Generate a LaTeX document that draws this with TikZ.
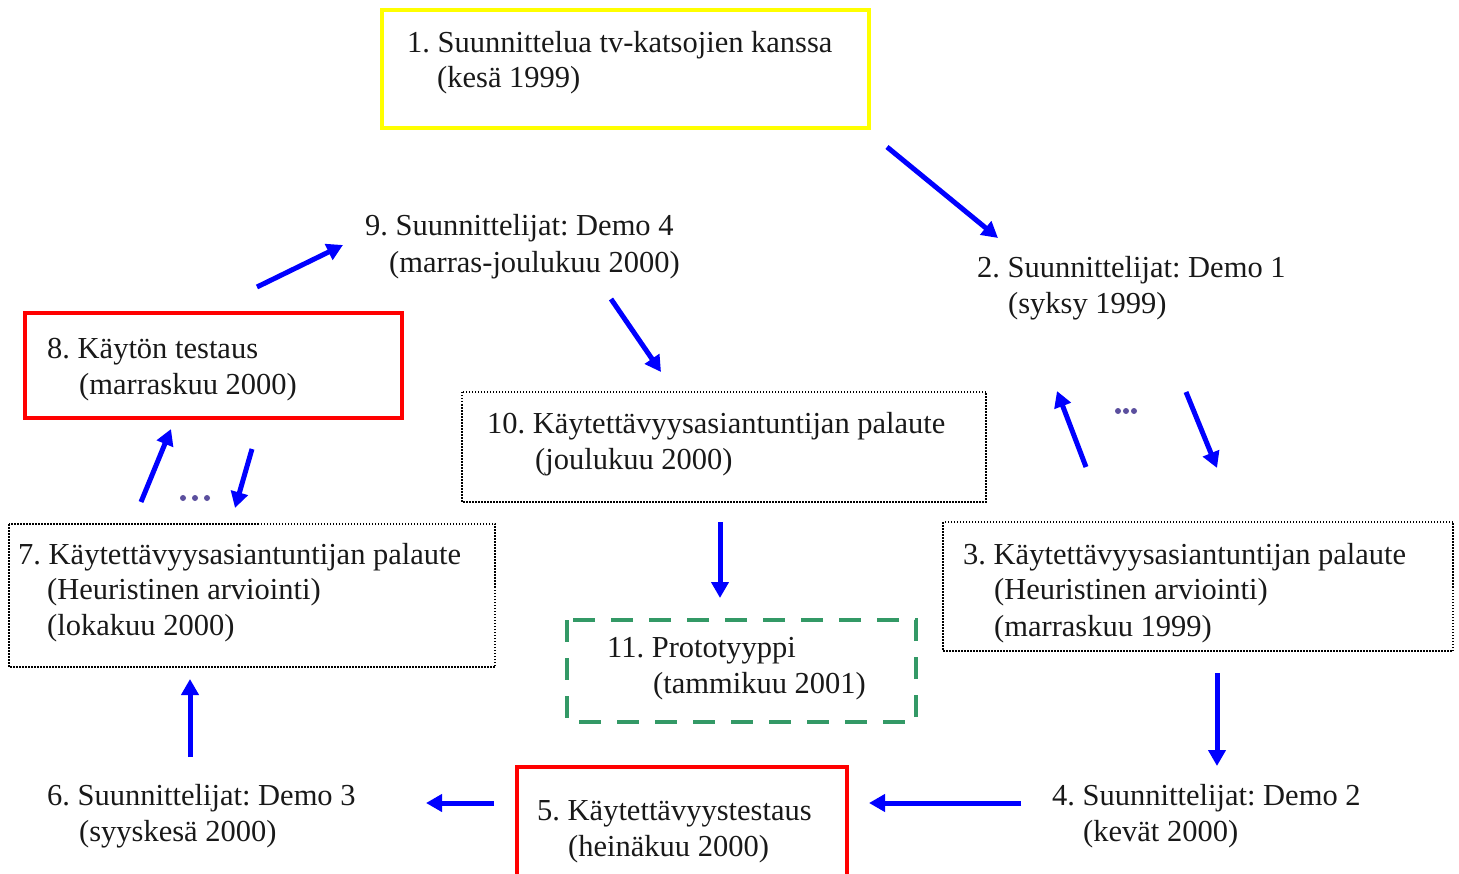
\documentclass[tikz,border=0pt]{standalone}
\usepackage{fontspec}
\setmainfont{Liberation Serif}
\usetikzlibrary{arrows.meta}
\definecolor{boxyellow}{RGB}{255,255,0}
\definecolor{boxred}{RGB}{255,0,0}
\definecolor{arrblue}{RGB}{0,0,255}
\definecolor{boxgreen}{RGB}{51,153,102}
\definecolor{dotpurple}{RGB}{91,79,158}
\tikzset{
  lbl/.style={anchor=base west, inner sep=0pt, font=\fontsize{30.5}{36}\selectfont\frenchspacing, text=black!90},
  yellowbox/.style={draw=boxyellow, line width=4pt},
  redbox/.style={draw=boxred, line width=4pt},
  dotbox/.style={draw=black, line width=1.4pt, dash pattern=on 1.5pt off 1.5pt},
  greenbox/.style={draw=boxgreen, line width=4pt, dash pattern=on 22pt off 16pt},
  flow/.style={draw=arrblue, line width=5pt, -{Triangle[length=16pt,width=17pt]}},
  dotc/.style={fill=dotpurple}
}
\begin{document}
\begin{tikzpicture}[x=1pt,y=-1pt]
\useasboundingbox (0,0) rectangle (1459,874);
% boxes
\draw[yellowbox] (382,10) rectangle (869,128);
\draw[redbox] (25,313) rectangle (402,418);
\draw[dotbox] (462,392) rectangle (986,502);
\draw[dotbox] (9,524) rectangle (495,667);
\draw[dotbox] (943,522) rectangle (1453,651);
\draw[greenbox] (567,620) rectangle (916,722);
\draw[redbox] (517,767) rectangle (847,890);
% texts
\node[lbl] (t1a) at (407,53) {1. Suunnittelua tv-katsojien kanssa};
\node[lbl] (t1b) at (437,88) {(kesä 1999)};
\node[lbl] (t9a) at (365,236) {9. Suunnittelijat: Demo 4};
\node[lbl] (t9b) at (389,273) {(marras-joulukuu 2000)};
\node[lbl] (t2a) at (977,278) {2. Suunnittelijat: Demo 1};
\node[lbl] (t2b) at (1008,314) {(syksy 1999)};
\node[lbl] (t8a) at (47,359) {8. Käytön testaus};
\node[lbl] (t8b) at (79,395) {(marraskuu 2000)};
\node[lbl] (t10a) at (487,433) {10. Käytettävyysasiantuntijan palaute};
\node[lbl] (t10b) at (535,469) {(joulukuu 2000)};
\node[lbl] (t7a) at (18,564) {7. Käytettävyysasiantuntijan palaute};
\node[lbl] (t7b) at (47,599) {(Heuristinen arviointi)};
\node[lbl] (t7c) at (47,635) {(lokakuu 2000)};
\node[lbl] (t3a) at (963,564) {3. Käytettävyysasiantuntijan palaute};
\node[lbl] (t3b) at (994,599) {(Heuristinen arviointi)};
\node[lbl] (t3c) at (994,636) {(marraskuu 1999)};
\node[lbl] (t11a) at (607,657) {11. Prototyyppi};
\node[lbl] (t11b) at (653,693) {(tammikuu 2001)};
\node[lbl] (t6a) at (47,805) {6. Suunnittelijat: Demo 3};
\node[lbl] (t6b) at (79,841) {(syyskesä 2000)};
\node[lbl] (t4a) at (1052,805) {4. Suunnittelijat: Demo 2};
\node[lbl] (t4b) at (1083,841) {(kevät 2000)};
\node[lbl] (t5a) at (537,820) {5. Käytettävyystestaus};
\node[lbl] (t5b) at (568,856) {(heinäkuu 2000)};
% arrow end coordinates
\coordinate (a1s) at (887,147); \coordinate (a1e) at (998,238);
\coordinate (a9s) at (611,299); \coordinate (a9e) at (661,372);
\coordinate (a8s) at (257,287); \coordinate (a8e) at (343,245);
\coordinate (a10s) at (720,522); \coordinate (a10e) at (720,598);
\coordinate (u3s) at (1086,467); \coordinate (u3e) at (1057,391);
\coordinate (d3s) at (1186,392); \coordinate (d3e) at (1217,468);
\coordinate (a3s) at (1217,673); \coordinate (a3e) at (1217,766);
\coordinate (a4s) at (1021,803); \coordinate (a4e) at (869,803);
\coordinate (a5s) at (494,803); \coordinate (a5e) at (426,803);
\coordinate (a6s) at (190,757); \coordinate (a6e) at (190,679);
\coordinate (u7s) at (141,502); \coordinate (u7e) at (171,429);
\coordinate (d7s) at (252,449); \coordinate (d7e) at (235,508);
\draw[flow] (a1s) -- (a1e);
\draw[flow] (a9s) -- (a9e);
\draw[flow] (a8s) -- (a8e);
\draw[flow] (a10s) -- (a10e);
\draw[flow] (u3s) -- (u3e);
\draw[flow] (d3s) -- (d3e);
\draw[flow] (a3s) -- (a3e);
\draw[flow] (a4s) -- (a4e);
\draw[flow] (a5s) -- (a5e);
\draw[flow] (a6s) -- (a6e);
\draw[flow] (u7s) -- (u7e);
\draw[flow] (d7s) -- (d7e);
% ellipsis dots
\foreach \dx in {-8,0,8} {
  \fill[dotc] (1126+\dx,411) circle (3pt);
  \fill[dotc] (195+\dx*1.5,498) circle (3pt);
}
\end{tikzpicture}
\end{document}
